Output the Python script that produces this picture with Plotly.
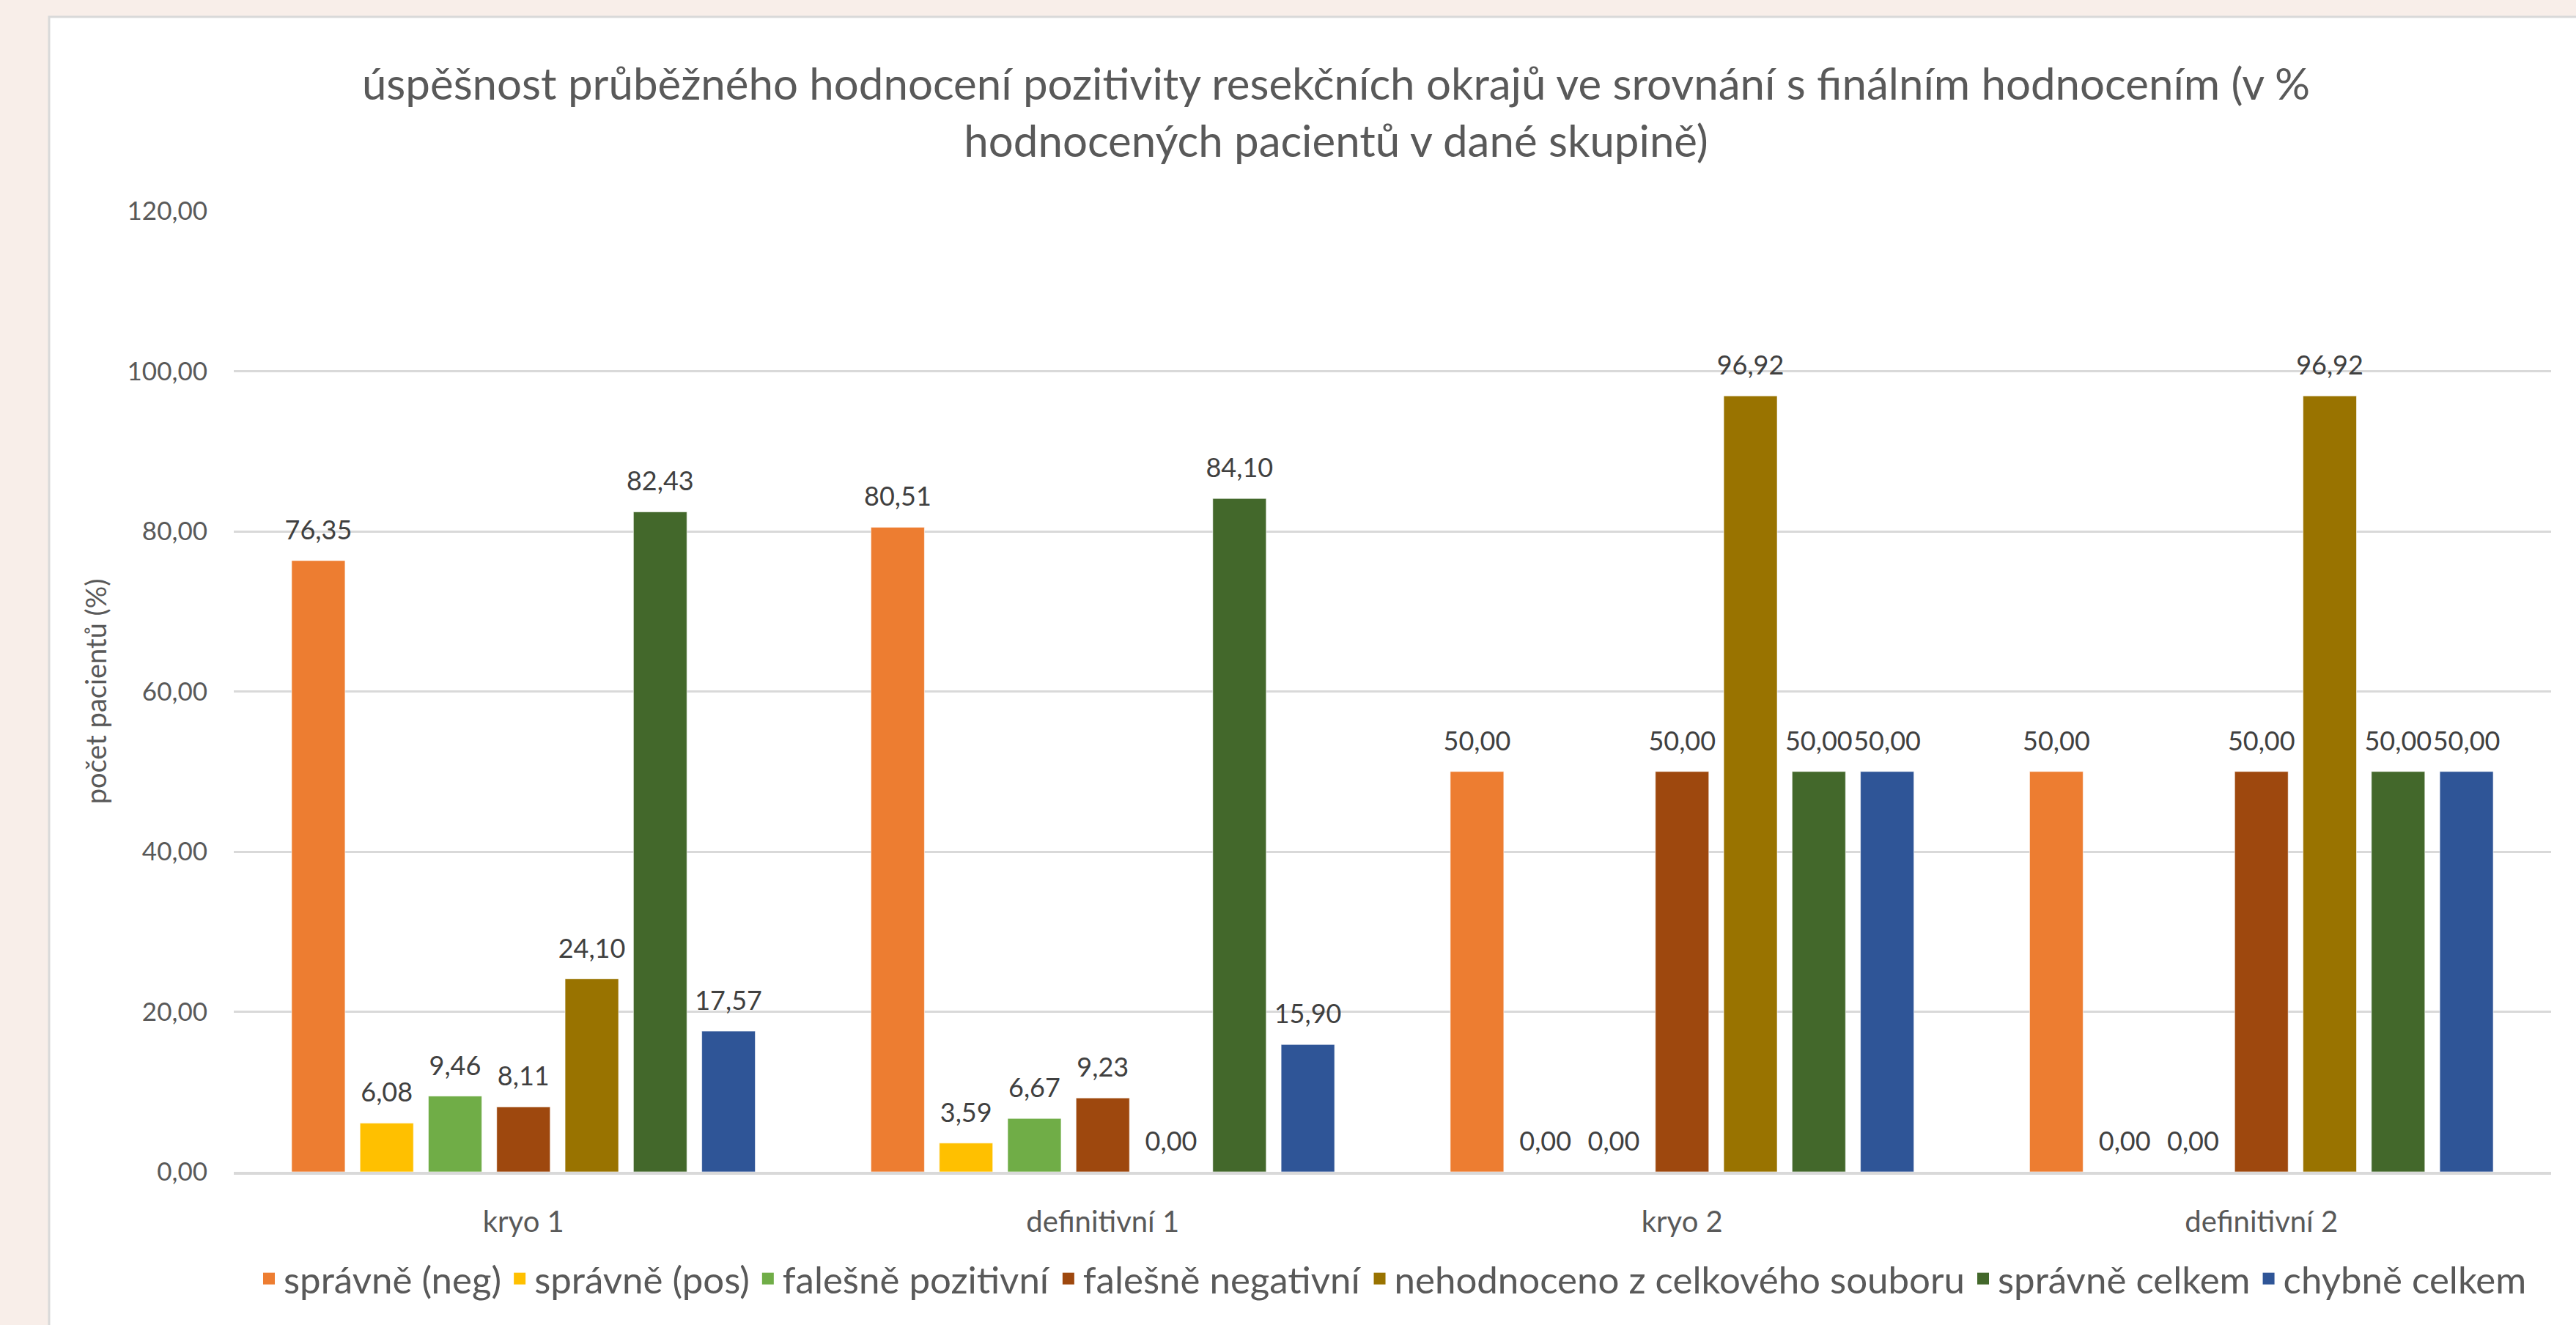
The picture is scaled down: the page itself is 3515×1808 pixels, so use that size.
import plotly.graph_objects as go

categories = ["kryo 1", "definitivní 1", "kryo 2", "definitivní 2"]

series_names = [
    "správně (neg)",
    "správně (pos)",
    "falešně pozitivní",
    "falešně negativní",
    "nehodnoceno z celkového souboru",
    "správně celkem",
    "chybně celkem",
]

spravne_neg = [76.35, 80.51, 50.00, 50.00]
spravne_pos = [6.08, 3.59, 0.00, 0.00]
falesne_poz = [9.46, 6.67, 0.00, 0.00]
falesne_neg = [8.11, 9.23, 50.00, 50.00]
nehodnoceno = [24.10, 0.00, 96.92, 96.92]
spravne_celkem = [82.43, 84.10, 50.00, 50.00]
chybne_celkem = [17.57, 15.90, 50.00, 50.00]

series_values = [spravne_neg, spravne_pos, falesne_poz, falesne_neg,
                 nehodnoceno, spravne_celkem, chybne_celkem]

colors = ["#ED7D31", "#FFC000", "#70AD47", "#9E480E", "#997300", "#43682B", "#2F5597"]

y_ticks = [0, 20, 40, 60, 80, 100, 120]

title_text = ("úspěšnost průběžného hodnocení pozitivity resekčních okrajů ve srovnání s finálním hodnocením (v %"
              "<br>hodnocených pacientů v dané skupině)")

FONT = "Lato"
GREY = "#595959"

fig = go.Figure()
for name, vals, col in zip(series_names, series_values, colors):
    fig.add_trace(go.Bar(
        name=name,
        x=categories,
        y=vals,
        legendgroup=name,
        showlegend=False,
        marker=dict(color=col, line=dict(color="rgba(255,255,255,0.6)", width=1)),
        texttemplate="<span style='font-size:36px'>%{y:.2f}</span><br>\u00a0",
        textposition="outside",
        textfont=dict(family=FONT, size=17, color="#404040"),
        constraintext="none",
        cliponaxis=False,
    ))
# legend entries (square swatches)
for name, col in zip(series_names, colors):
    fig.add_trace(go.Scatter(
        name=name,
        x=[None], y=[None],
        mode="markers",
        legendgroup=name,
        marker=dict(symbol="square", size=28, color=col),
        hoverinfo="skip",
    ))

W, H = 3515, 1808
L, R, T, B = 319, 34, 288, 209
plot_h = H - T - B
plot_w = W - L - R

fig.update_layout(
    width=W, height=H,
    margin=dict(l=L, r=R, t=T, b=B, autoexpand=False),
    paper_bgcolor="#F8EEE9",
    plot_bgcolor="rgba(0,0,0,0)",
    separators=", ",
    barmode="group",
    bargap=0.174,
    bargroupgap=0.218,
    font=dict(family=FONT, color=GREY),
    title=dict(
        text=title_text,
        x=1823 / W, xanchor="center",
        y=1 - 136 / H, yanchor="middle", yref="container",
        font=dict(family=FONT, size=60, color=GREY),
    ),
    showlegend=True,
    legend=dict(
        orientation="h",
        x=0.5, xanchor="center",
        y=(H - B - 1745) / plot_h, yanchor="middle",
        font=dict(family=FONT, size=51, color=GREY),
        bgcolor="rgba(0,0,0,0)",
        traceorder="normal",
        itemsizing="trace",
    ),
    xaxis=dict(
        showgrid=False,
        showline=True, linecolor="#D9D9D9", linewidth=4,
        ticks="",
        tickfont=dict(family=FONT, size=40, color=GREY),
        ticklabelstandoff=30,
    ),
    yaxis=dict(
        range=[0, 120],
        tickvals=y_ticks,
        tickformat=".2f",
        showgrid=True, gridcolor="#D9D9D9", gridwidth=3,
        zeroline=False,
        showline=False,
        ticks="",
        tickfont=dict(family=FONT, size=35, color=GREY),
        ticklabelstandoff=35,
        title=dict(text="počet pacientů (%)", font=dict(family=FONT, size=38, color=GREY), standoff=16),
    ),
    shapes=[dict(
        type="rect", xref="paper", yref="paper", layer="below",
        x0=(67 - L) / plot_w, x1=1.05,
        y0=-0.3, y1=(H - B - 23) / plot_h,
        fillcolor="white", line=dict(color="#D9D9D9", width=3),
    )],
)

fig.write_html("out.html", post_script="document.body.style.margin='0';document.body.style.overflow='hidden';")
